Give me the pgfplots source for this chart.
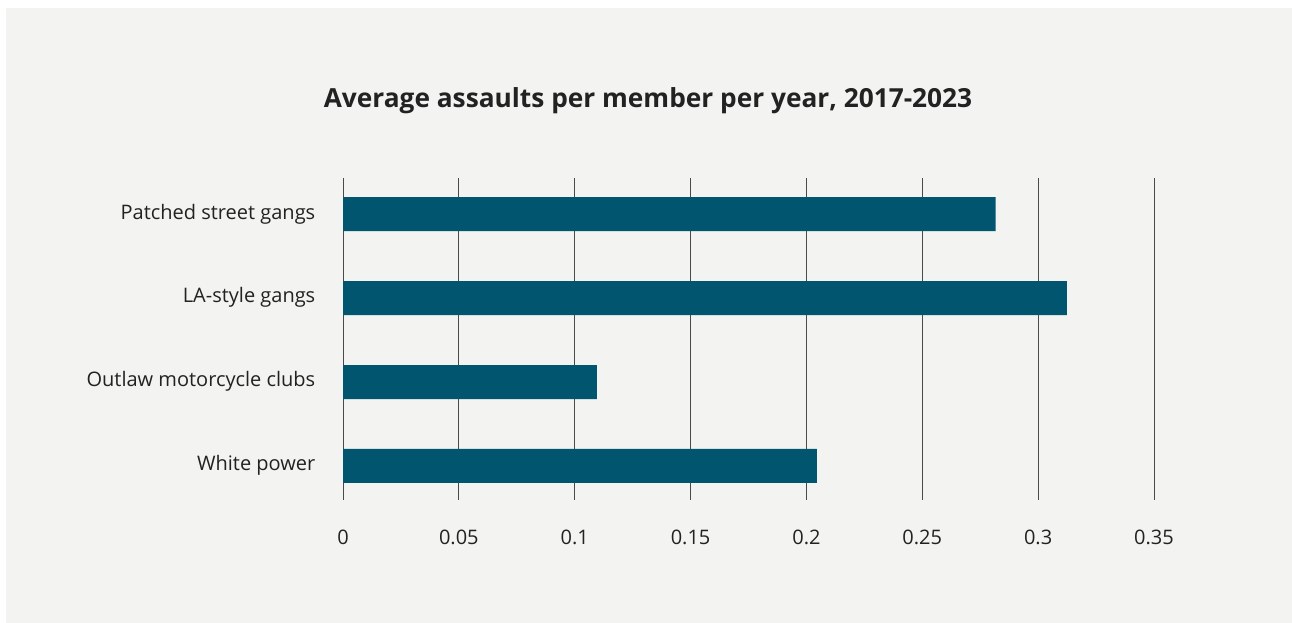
\documentclass[border=0pt]{standalone}
\usepackage{pgfplots}
\pgfplotsset{compat=1.18}
\usepackage{fontspec}
\setmainfont{Open Sans}
\definecolor{panel}{HTML}{F3F3F1}
\definecolor{barc}{HTML}{02556E}
\definecolor{txt}{HTML}{222222}
\definecolor{gridc}{HTML}{4A4A4A}
\begin{document}
\begin{tikzpicture}
\useasboundingbox (0,0) rectangle (969pt,467.25pt);
\fill[white] (0,0) rectangle (969pt,467.25pt);
\fill[panel] (4.5pt,0) rectangle (969pt,461.25pt);
\node[anchor=base, font=\fontsize{19.7}{22}\selectfont\bfseries, text=txt, inner sep=0] at (486pt,386.25pt) {Average assaults per member per year, 2017-2023};
\begin{axis}[
  at={(257.25pt,92.25pt)}, anchor=south west,
  scale only axis, width=608.25pt, height=241.5pt,
  xmin=0, xmax=0.35, ymin=-0.43, ymax=3.405,
  y dir=reverse,
  axis line style={draw=none},
  xbar, bar width=25.5pt, bar shift=0pt,
  xtick={0,0.05,0.1,0.15,0.2,0.25,0.3,0.35},
  xticklabels={0,0.05,0.1,0.15,0.2,0.25,0.3,0.35},
  ytick={0,1,2,3},
  yticklabels={Patched street gangs,LA-style gangs,Outlaw motorcycle clubs,White power},
  xmajorgrids, major grid style={draw=gridc, line width=0.75pt},
  major tick length=0pt,
  tick label style={font=\fontsize{15}{17}\selectfont, text=txt},
  xticklabel style={anchor=base, yshift=-33.75pt},
  yticklabel style={anchor=base east, xshift=-17.25pt, yshift=-3.7pt},
  /pgf/number format/assume math mode=true,
  clip=false,
]
\addplot[fill=barc, draw=none] coordinates {(0.2817,0) (0.3124,1) (0.1096,2) (0.2045,3)};
\end{axis}
\end{tikzpicture}
\end{document}
